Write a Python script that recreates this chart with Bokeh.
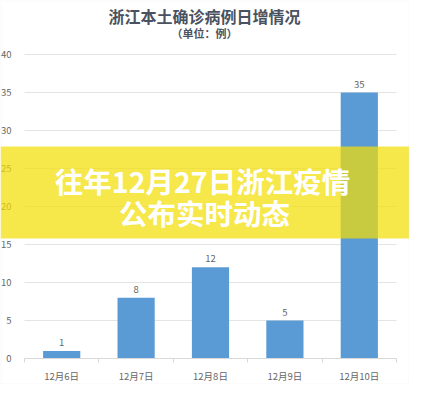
from bokeh.plotting import figure
from bokeh.models import (ColumnDataSource, Label, FixedTicker, Range1d, BoxAnnotation,
                          LinearAxis, Grid)
from bokeh.core.properties import value
from bokeh.embed import file_html
from bokeh.resources import INLINE

dates = ["12月6日", "12月7日", "12月8日", "12月9日", "12月10日"]
cases = [1, 8, 12, 5, 35]
y_ticks = [0, 5, 10, 15, 20, 25, 30, 35, 40]
title_text = "浙江本土确诊病例日增情况"
subtitle_text = "（单位：例）"
overlay_line1 = "往年12月27日浙江疫情"
overlay_line2 = "公布实时动态"

CJK = "Noto Sans CJK SC"
W, H = 409, 384
# plot-area placement on the canvas (pixels)
PL, PR, PT, PB = 24, 396, 54, 358
n = len(dates)
ux = (PR - PL) / n
uy = (PB - PT) / 40.0

xs = [i + 0.5 for i in range(n)]
src = ColumnDataSource(dict(x=xs, cases=cases, lab=[str(v) for v in cases]))

p = figure(width=W, height=H, output_backend="svg", toolbar_location=None,
           x_range=Range1d(-PL / ux, n + (W - PR) / ux),
           y_range=Range1d(-(H - PB) / uy, 40 + PT / uy),
           x_axis_type=None, y_axis_type=None,
           min_border_left=0, min_border_right=0, min_border_top=0, min_border_bottom=0)
p.outline_line_color = None
p.background_fill_color = "white"
p.border_fill_color = "white"

LABEL_GREY = "#666666"

# axes fixed at the plot-area edges
yaxis = LinearAxis(fixed_location=0, ticker=FixedTicker(ticks=y_ticks))
yaxis.axis_line_color = None
yaxis.major_tick_line_color = None
yaxis.minor_tick_line_color = None
yaxis.major_label_standoff = 7
yaxis.major_label_text_font = CJK
yaxis.major_label_text_font_size = "9.5px"
yaxis.major_label_text_color = LABEL_GREY
p.add_layout(yaxis, "left")

xaxis = LinearAxis(fixed_location=0, ticker=FixedTicker(ticks=xs, minor_ticks=list(range(n + 1))),
                   major_label_overrides={x: d for x, d in zip(xs, dates)})
xaxis.bounds = (0, n)
xaxis.axis_line_color = "#d9d9d9"
xaxis.major_tick_line_color = None
xaxis.major_tick_out = 0
xaxis.major_tick_in = 0
xaxis.minor_tick_line_color = "#d9d9d9"
xaxis.minor_tick_out = 4
xaxis.minor_tick_in = 0
xaxis.major_label_standoff = 6
xaxis.major_label_text_font = CJK
xaxis.major_label_text_font_size = "9.5px"
xaxis.major_label_text_color = LABEL_GREY
p.add_layout(xaxis, "below")

ygrid = Grid(dimension=1, ticker=FixedTicker(ticks=y_ticks), grid_line_color="#e4e4e4")
if "cross_bounds" in Grid.properties():
    ygrid.cross_bounds = (0, n)
p.add_layout(ygrid)

p.vbar(x="x", top="cases", width=0.5, source=src, fill_color="#5b9bd5", line_color=None)
p.text(x="x", y="cases", text="lab", source=src, text_align="center", text_baseline="bottom",
       y_offset=-5, text_font=value(CJK), text_font_size="9.5px", text_color=LABEL_GREY)

p.add_layout(Label(x=204, y=15, x_units="canvas", y_units="canvas", text=title_text,
                   text_align="center", text_baseline="middle", text_font=CJK,
                   text_font_size="16px", text_font_style="bold", text_color="#4a5260"))
p.add_layout(Label(x=204, y=32, x_units="canvas", y_units="canvas", text=subtitle_text,
                   text_align="center", text_baseline="middle", text_font=CJK,
                   text_font_size="11px", text_font_style="bold", text_color="#4a5260"))

# translucent banner across the whole picture
p.add_layout(BoxAnnotation(left=0, right=W, top=146, bottom=238,
                           left_units="canvas", right_units="canvas",
                           top_units="canvas", bottom_units="canvas",
                           fill_color="#f2de05", fill_alpha=0.72, line_color=None))
p.add_layout(Label(x=202, y=180, x_units="canvas", y_units="canvas", text=overlay_line1,
                   text_align="center", text_baseline="middle", text_font=CJK,
                   text_font_size="28.5px", text_font_style="bold", text_color="white"))
p.add_layout(Label(x=204, y=212, x_units="canvas", y_units="canvas", text=overlay_line2,
                   text_align="center", text_baseline="middle", text_font=CJK,
                   text_font_size="28.5px", text_font_style="bold", text_color="white"))

# faint frame round the picture
p.add_layout(BoxAnnotation(left=0.5, right=W - 0.5, top=0.5, bottom=H - 0.5,
                           left_units="canvas", right_units="canvas",
                           top_units="canvas", bottom_units="canvas",
                           fill_alpha=0, line_color="#e3e3e3", line_width=1))

open("out.html", "w").write(file_html(p, INLINE))
